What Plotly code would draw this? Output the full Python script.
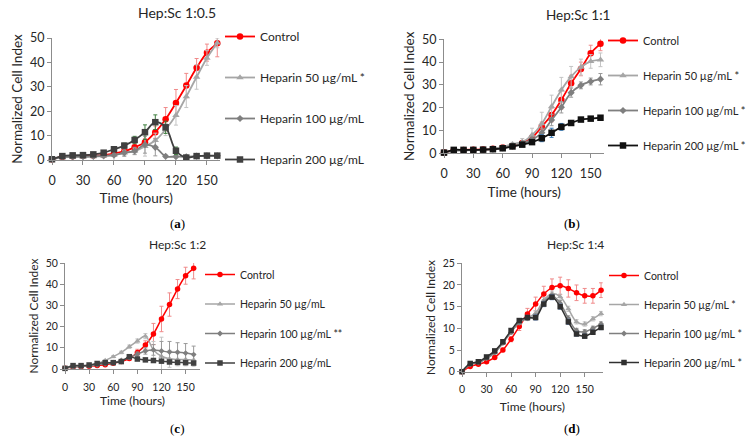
import plotly.graph_objects as go

# ---------------- data ----------------
t_abc = [0, 10, 20, 30, 40, 50, 60, 70, 80, 90, 100, 110, 120, 130, 140, 150, 160]
t_d = [0, 10, 20, 30, 40, 50, 60, 70, 80, 90, 100, 110, 120, 130, 140, 150, 160, 170]

series_names = ["Control", "Heparin 50 µg/mL", "Heparin 100 µg/mL", "Heparin 200 µg/mL"]
a_marks = ["", " *", "", ""]
b_marks = ["", " *", " *", " *"]
c_marks = ["", "", " **", ""]
d_marks = ["", " *", " *", " *"]
panel_titles = ["Hep:Sc 1:0.5", "Hep:Sc 1:1", "Hep:Sc 1:2", "Hep:Sc 1:4"]
panel_labels = ["a", "b", "c", "d"]

# Panel (a) Hep:Sc 1:0.5
a_control = [0.3, 1.3, 1.5, 1.7, 1.8, 2.0, 2.6, 3.6, 5.2, 7.3, 11.4, 16.7, 23.4, 30.5, 37.8, 44.0, 47.8]
a_control_err = [0.2, 0.3, 0.3, 0.3, 0.3, 0.4, 0.5, 0.8, 1.0, 1.5, 2.5, 4.8, 5.5, 5.0, 3.8, 3.5, 5.5]
a_h50 = [0.3, 1.1, 1.2, 1.3, 1.4, 1.6, 2.0, 2.9, 3.6, 5.6, 8.0, 12.5, 18.3, 26.0, 34.0, 41.8, 48.0]
a_h50_err = [0.2, 0.3, 0.3, 0.3, 0.3, 0.4, 3.5, 1.0, 1.2, 4.0, 3.0, 2.5, 4.0, 4.5, 5.0, 3.0, 2.0]
a_h100 = [0.3, 1.2, 1.3, 1.4, 1.5, 1.7, 2.0, 3.0, 3.7, 6.3, 5.2, 1.5, 1.4, 1.3, 1.6, 1.7, 1.7]
a_h100_err = [0.1, 0.2, 0.2, 0.2, 0.2, 0.3, 0.4, 1.5, 1.5, 3.5, 3.5, 0.5, 0.5, 0.3, 0.3, 0.3, 0.3]
a_h200 = [0.3, 1.6, 1.9, 2.0, 2.3, 3.0, 4.4, 5.9, 8.2, 11.4, 15.5, 13.4, 3.8, 1.0, 1.6, 1.8, 1.8]
a_h200_err = [0.1, 0.2, 0.2, 0.2, 0.3, 0.4, 0.5, 1.0, 1.5, 3.0, 3.0, 2.5, 1.5, 0.3, 0.3, 0.3, 0.3]

# Panel (b) Hep:Sc 1:1
b_control = [0.3, 1.3, 1.5, 1.6, 1.7, 2.0, 2.5, 3.2, 4.5, 6.8, 11.7, 16.8, 23.4, 30.7, 37.0, 43.9, 48.0]
b_control_err = [0.1, 0.2, 0.2, 0.2, 0.2, 0.3, 0.4, 0.5, 0.8, 1.2, 2.0, 3.0, 4.0, 3.5, 3.0, 3.5, 3.0]
b_h50 = [0.3, 1.2, 1.3, 1.4, 1.6, 2.0, 2.8, 4.0, 5.0, 8.0, 13.0, 20.5, 27.8, 33.6, 37.8, 40.3, 41.0]
b_h50_err = [0.1, 0.2, 0.2, 0.2, 0.3, 0.4, 0.6, 0.8, 1.5, 3.0, 5.0, 5.0, 5.5, 4.5, 3.5, 3.0, 3.0]
b_h100 = [0.3, 1.2, 1.3, 1.4, 1.5, 1.8, 2.4, 3.2, 4.3, 6.0, 9.0, 14.6, 20.2, 26.6, 29.8, 31.5, 32.5]
b_h100_err = [0.1, 0.2, 0.2, 0.2, 0.2, 0.3, 0.4, 0.5, 0.8, 1.5, 2.0, 2.5, 2.5, 2.0, 1.5, 1.5, 2.5]
b_h200 = [0.3, 1.5, 1.5, 1.5, 1.6, 1.8, 2.2, 3.0, 3.8, 4.9, 6.6, 9.0, 11.6, 13.3, 14.8, 15.2, 15.6]
b_h200_err = [0.1, 0.2, 0.2, 0.2, 0.2, 0.3, 0.3, 0.4, 0.6, 0.8, 1.5, 2.0, 1.5, 1.0, 0.8, 0.6, 0.8]

# Panel (c) Hep:Sc 1:2
c_control = [0.3, 1.0, 1.2, 1.3, 1.6, 2.0, 2.7, 3.5, 5.0, 7.8, 11.3, 16.5, 23.6, 30.4, 37.7, 44.0, 47.5]
c_control_err = [0.1, 0.2, 0.2, 0.2, 0.3, 0.3, 0.4, 0.6, 1.0, 1.5, 2.0, 5.0, 6.0, 5.5, 4.5, 4.0, 5.0]
c_h50 = [0.3, 1.0, 1.3, 1.7, 2.5, 4.0, 5.8, 7.8, 10.5, 13.2, 15.5, 9.0, 6.0, 4.8, 4.5, 4.5, 4.3]
c_h50_err = [0.1, 0.2, 0.2, 0.3, 0.3, 0.4, 0.5, 0.6, 0.8, 1.0, 1.2, 4.0, 9.0, 4.0, 3.0, 3.0, 3.0]
c_h100 = [0.3, 1.0, 1.2, 1.5, 2.0, 2.5, 3.0, 4.0, 5.5, 7.0, 8.5, 9.0, 8.5, 8.0, 7.9, 7.5, 6.8]
c_h100_err = [0.1, 0.2, 0.2, 0.2, 0.3, 0.3, 0.4, 0.5, 0.8, 1.0, 1.5, 2.5, 4.5, 5.0, 4.5, 4.5, 4.0]
c_h200 = [0.3, 1.6, 1.6, 1.9, 2.6, 3.0, 3.0, 3.5, 5.8, 4.7, 4.3, 4.0, 3.7, 3.3, 3.1, 3.0, 2.8]
c_h200_err = [0.1, 0.2, 0.2, 0.2, 0.2, 0.3, 0.3, 0.3, 0.5, 0.5, 0.4, 0.4, 0.4, 0.4, 0.4, 0.4, 0.4]

# Panel (d) Hep:Sc 1:4
d_control = [0.0, 1.2, 1.7, 2.3, 3.3, 5.0, 7.5, 10.4, 13.3, 15.6, 17.9, 19.4, 19.8, 19.2, 18.2, 17.5, 17.5, 18.8]
d_control_err = [0.0, 0.2, 0.2, 0.3, 0.3, 0.4, 0.6, 0.9, 1.3, 1.6, 1.8, 2.0, 2.0, 2.0, 1.8, 1.7, 1.7, 1.7]
d_h50 = [0.0, 1.7, 2.1, 3.0, 4.4, 6.7, 9.2, 11.4, 12.4, 13.5, 16.5, 18.0, 17.3, 14.5, 11.5, 11.0, 12.2, 13.4]
d_h50_err = [0.0, 0.2, 0.2, 0.2, 0.3, 0.3, 0.4, 0.4, 0.5, 0.6, 0.6, 0.6, 0.6, 0.6, 0.5, 0.5, 0.5, 0.5]
d_h100 = [0.0, 1.7, 2.1, 3.1, 4.4, 6.6, 9.1, 11.3, 12.3, 12.8, 16.0, 17.5, 15.8, 12.3, 9.5, 9.2, 10.0, 11.0]
d_h100_err = [0.0, 0.2, 0.2, 0.2, 0.3, 0.3, 0.4, 0.4, 0.5, 0.6, 0.6, 0.6, 0.6, 0.6, 0.5, 0.5, 0.5, 0.5]
d_h200 = [0.0, 1.9, 2.3, 3.4, 4.8, 6.9, 9.5, 11.8, 12.5, 12.5, 15.6, 17.2, 15.0, 11.5, 8.7, 8.2, 9.1, 10.2]
d_h200_err = [0.0, 0.2, 0.2, 0.2, 0.3, 0.3, 0.4, 0.4, 0.5, 0.6, 0.6, 0.6, 0.6, 0.6, 0.5, 0.5, 0.5, 0.5]

# ---------------- styling ----------------
W, H = 750, 440
FONT = "Lato"
TXT = "#262626"
AX = "#8c8c8c"

line_colors = ["#ff0000", "#a6a6a6", "#7f7f7f", "#404040"]
symbols = ["circle", "triangle-up", "diamond", "square"]
err_colors_by_panel = [
    ["#f08a8a", "#c4c4c4", "#9a9a9a", "#3f7f3f"],
    ["#f08a8a", "#c4c4c4", "#9a9a9a", "#2e75b6"],
    ["#f08a8a", "#c4c4c4", "#9a9a9a", "#6f8fc0"],
    ["#f08a8a", "#c4c4c4", "#9a9a9a", "#6f8fc0"],
]
h200_colors = ["#404040", "#111111", "#404040", "#303030"]

panels = [
    dict(x0=52, px_h=1.033, xmax=163, yb=160, yt=38, ymax=50, dy=10, tso=5, xso=6,
         tick=12.5, axt=13.5, legf=12, ttl=14, leg=(220, 34), gap=22, lw=1.8, ms=6.5),
    dict(x0=444, px_h=0.978, xmax=164, yb=153.3, yt=39.3, ymax=50, dy=10, tso=5, xso=7,
         tick=12.5, axt=13.5, legf=11, ttl=13.5, leg=(603, 38), gap=16, lw=1.8, ms=6.5),
    dict(x0=65, px_h=0.804, xmax=168, yb=369, yt=263, ymax=50, dy=10, tso=4, xso=5,
         tick=10.5, axt=12, legf=10.5, ttl=12, leg=(200, 272), gap=10.5, lw=1.5, ms=5.5),
    dict(x0=462, px_h=0.818, xmax=172, yb=371.7, yt=263.3, ymax=25, dy=5, tso=4, xso=8,
         tick=10.5, axt=12, legf=10.5, ttl=12, leg=(604, 273), gap=10, lw=1.5, ms=5.5),
]
title_pos = [(177, 13), (578, 15), (177, 245), (575, 245)]
label_pos = [(177, 224), (572, 224), (177, 428), (572, 428)]

panel_data = [
    (t_abc, [a_control, a_h50, a_h100, a_h200], [a_control_err, a_h50_err, a_h100_err, a_h200_err], a_marks),
    (t_abc, [b_control, b_h50, b_h100, b_h200], [b_control_err, b_h50_err, b_h100_err, b_h200_err], b_marks),
    (t_abc, [c_control, c_h50, c_h100, c_h200], [c_control_err, c_h50_err, c_h100_err, c_h200_err], c_marks),
    (t_d, [d_control, d_h50, d_h100, d_h200], [d_control_err, d_h50_err, d_h100_err, d_h200_err], d_marks),
]

fig = go.Figure()
layout = dict(
    width=W, height=H, margin=dict(l=0, r=0, t=0, b=0, autoexpand=False),
    paper_bgcolor="white", plot_bgcolor="white",
    font=dict(family=FONT, color=TXT),
    showlegend=True,
)
annotations = []

for i, (p, (tt, ys, errs, marks)) in enumerate(zip(panels, panel_data)):
    n = "" if i == 0 else str(i + 1)
    legname = "legend" if i == 0 else f"legend{i + 1}"
    for k in range(4):
        col = line_colors[k] if k < 3 else h200_colors[i]
        fig.add_trace(go.Scatter(
            x=tt, y=ys[k], mode="lines+markers",
            name=series_names[k] + marks[k],
            line=dict(color=col, width=p["lw"], shape="spline", smoothing=1.0),
            marker=dict(symbol=symbols[k], size=p["ms"] if k != 2 else p["ms"] - 1, color=col),
            error_y=dict(type="data", array=errs[k], color=err_colors_by_panel[i][k], thickness=1, width=2),
            xaxis="x" + n, yaxis="y" + n, legend=legname,
            legendgroup=f"p{i}s{k}", cliponaxis=False,
        ))
    xd = [p["x0"] / W, (p["x0"] + p["xmax"] * p["px_h"]) / W]
    yd = [1 - p["yb"] / H, 1 - p["yt"] / H]
    layout["xaxis" + n] = dict(
        domain=xd, range=[0, p["xmax"]], tickvals=[0, 30, 60, 90, 120, 150],
        showline=True, linecolor=AX, linewidth=1, ticks="outside", ticklen=4, tickcolor=AX,
        ticklabelstandoff=p["tso"],
        showgrid=False, zeroline=False, anchor="y" + n, tickfont=dict(size=p["tick"], color=TXT),
        title=dict(text="Time (hours)", font=dict(size=p["axt"], color=TXT), standoff=p["xso"]),
    )
    layout["yaxis" + n] = dict(
        domain=yd, range=[0, p["ymax"]], dtick=p["dy"],
        showline=True, linecolor=AX, linewidth=1, ticks="outside", ticklen=4, tickcolor=AX,
        showgrid=False, zeroline=False, anchor="x" + n, tickfont=dict(size=p["tick"], color=TXT),
        title=dict(text="Normalized Cell Index", font=dict(size=p["axt"], color=TXT), standoff=4),
    )
    layout[legname] = dict(
        x=p["leg"][0] / W, y=1 - (p["leg"][1] - 12) / H, xanchor="left", yanchor="top",
        bgcolor="rgba(0,0,0,0)", font=dict(size=p["legf"], color=TXT, family=FONT),
        tracegroupgap=p["gap"], itemwidth=30, traceorder="grouped",
    )
    annotations.append(dict(
        text=panel_titles[i], x=title_pos[i][0] / W, y=1 - title_pos[i][1] / H,
        xref="paper", yref="paper", showarrow=False, xanchor="center", yanchor="middle",
        font=dict(size=p["ttl"], color=TXT, family=FONT),
    ))
    annotations.append(dict(
        text=f"(<b>{panel_labels[i]}</b>)", x=label_pos[i][0] / W, y=1 - label_pos[i][1] / H,
        xref="paper", yref="paper", showarrow=False, xanchor="center", yanchor="middle",
        font=dict(size=13, color="#000000", family="Liberation Serif"),
    ))

layout["annotations"] = annotations
fig.update_layout(**layout)
fig.write_html(
    "out.html",
    config={"displayModeBar": False},
    post_script="document.body.style.margin='0px'; document.body.style.overflow='hidden';",
)
